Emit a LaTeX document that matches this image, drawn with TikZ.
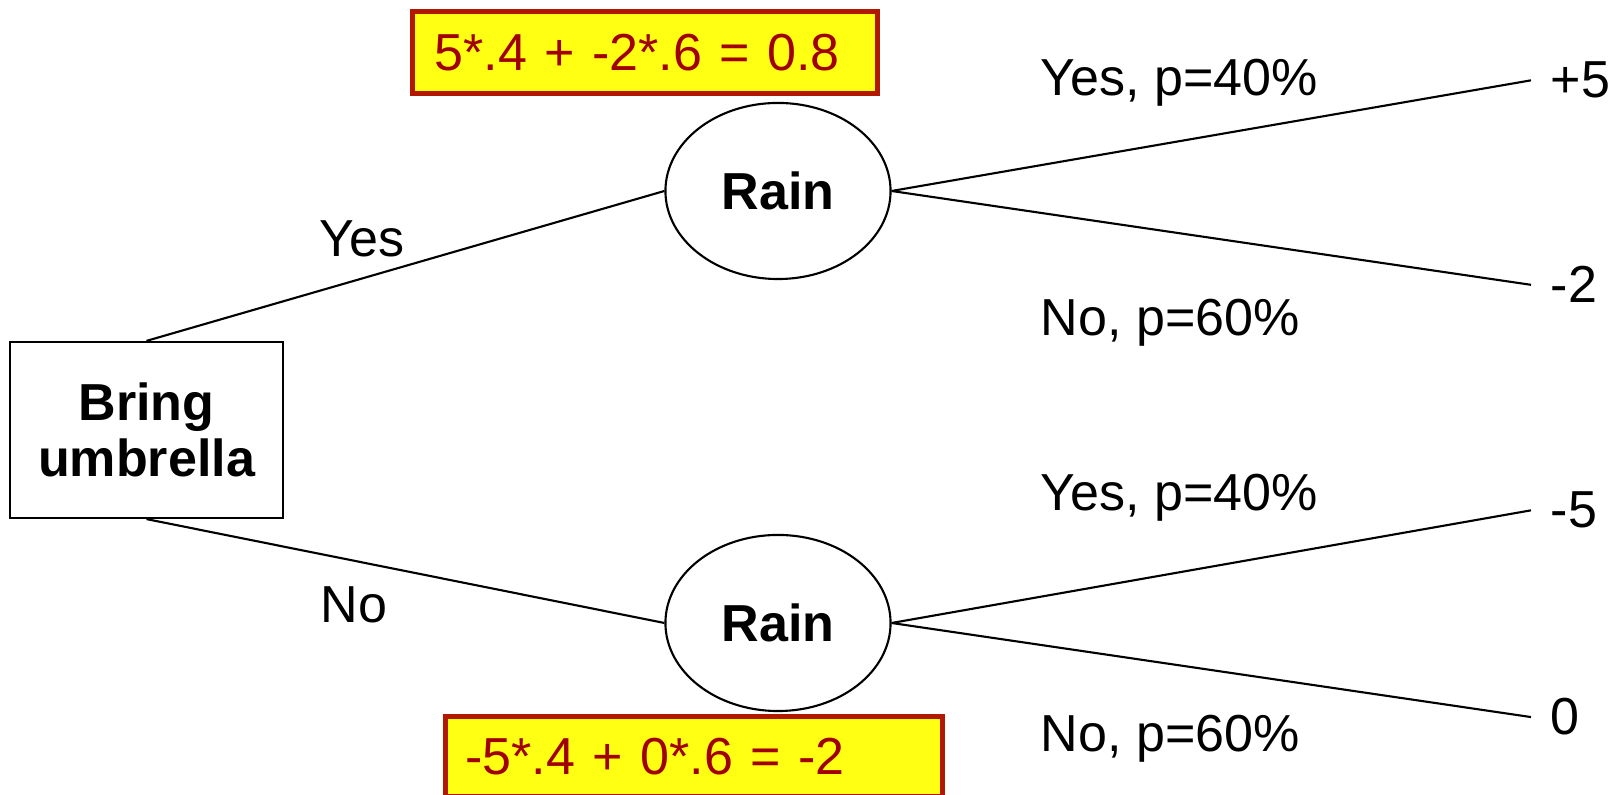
\documentclass[tikz,border=0pt]{standalone}
\usepackage{fontspec}
\setmainfont{Liberation Sans}
\usetikzlibrary{positioning, shapes.geometric}
\definecolor{calcfill}{RGB}{255,255,20}
\definecolor{calcframe}{RGB}{178,24,0}
\definecolor{calctext}{RGB}{160,0,0}

\begin{document}
\begin{tikzpicture}[
    x=0.01cm, y=-0.01cm,
    txt/.style={font=\fontsize{14.8}{15.9}\selectfont},
    decision/.style={
        draw, line width=0.6pt,
        font=\fontsize{14.8}{15.9}\selectfont\bfseries,
        align=center,
        minimum width=2.73cm,
        minimum height=1.76cm,
        inner sep=0pt
    },
    chance/.style={
        ellipse, draw, line width=0.6pt,
        font=\fontsize{14.8}{15.9}\selectfont\bfseries,
        minimum width=2.25cm,
        minimum height=1.76cm,
        inner sep=0pt
    },
    branch/.style={line width=0.6pt},
    edgetext/.style={txt, anchor=base west, inner sep=0pt},
    outcome/.style={txt, anchor=base west, inner xsep=0.19cm, inner ysep=0pt},
    calcbox/.style={
        draw=calcframe, fill=calcfill, line width=1.4pt,
        text=calctext, txt,
        align=left, anchor=north west
    }
]
\useasboundingbox (0,0) rectangle (1623,795);

% ===== decision and chance nodes =====
\node[decision] (umbrella) at (146.5,430) {Bring\\umbrella};
\node[chance] (rainYes) at (778,191) {Rain};
\node[chance] (rainNo) at (778,623) {Rain};

% ===== outcomes =====
\node[outcome] (winA) at (1531,98) {+5};
\node[outcome] (lossA) at (1531,303) {-2};
\node[outcome] (lossB) at (1531,528) {-5};
\node[outcome] (zeroB) at (1531,735) {0};

% ===== branches =====
\draw[branch] (umbrella.north) -- (rainYes.west);
\draw[branch] (umbrella.south) -- (rainNo.west);
\foreach \src/\dst in {rainYes/winA, rainYes/lossA, rainNo/lossB, rainNo/zeroB} {
    \draw[branch] (\src.east) -- (\dst.west);
}

% ===== branch labels =====
\node[edgetext] (yesA) at (319,257) {Yes};
\node[edgetext] (noA) at (320,623) {No};
\foreach \name/\y/\t in {pYesA/96/{Yes, p=40\%}, pNoA/336/{No, p=60\%},
                          pYesB/511/{Yes, p=40\%}, pNoB/752/{No, p=60\%}} {
    \node[edgetext] (\name) at (1040,\y) {\t};
}

% ===== expected values =====
\node[calcbox, minimum width=4.65cm, minimum height=0.82cm,
      inner xsep=0.22cm, text width=4.21cm] (evYes) at (410,9)
    {5*.4 + -2*.6 = 0.8};
\node[calcbox, minimum width=4.97cm, minimum height=0.80cm,
      inner xsep=0.20cm, text width=4.57cm] (evNo) at (443,714)
    {-5*.4 + 0*.6 = -2};

\end{tikzpicture}
\end{document}
